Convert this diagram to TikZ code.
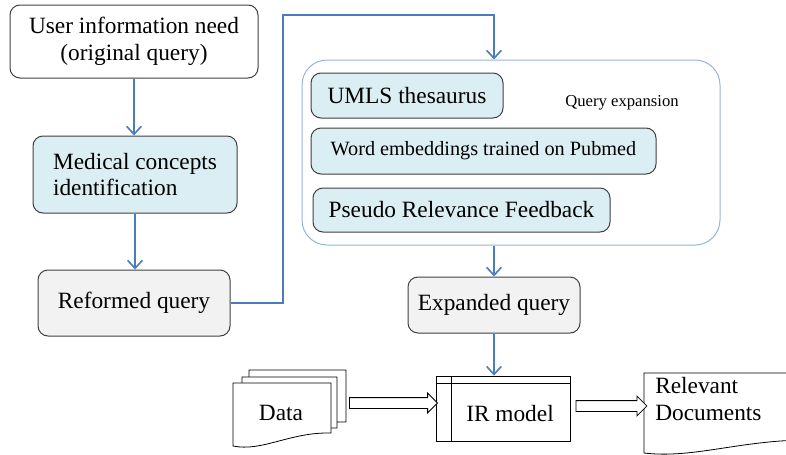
\documentclass[tikz,border=0pt]{standalone}
\usepackage{fontspec}
\setmainfont{Liberation Serif}
\newfontfamily\diagfont{Liberation Serif}
\usetikzlibrary{arrows.meta,shapes.arrows}
\newlength{\du}
\setlength{\du}{0.75pt}
\definecolor{flowblue}{RGB}{74,126,187}
\definecolor{conceptfill}{RGB}{219,238,243}
\definecolor{queryfill}{RGB}{242,242,242}
\definecolor{boxline}{RGB}{64,64,64}
\definecolor{groupline}{RGB}{149,179,215}
\tikzset{
  bigtext/.style={font=\diagfont\fontsize{17.5}{20}\selectfont},
  stagebox/.style={draw=boxline, line width=1\du, rounded corners=10\du, bigtext, align=center, inner sep=0pt},
  conceptbox/.style={stagebox, fill=conceptfill},
  querybox/.style={stagebox, fill=queryfill},
  flow/.style={draw=flowblue, line width=1.6\du, -{Straight Barb[length=6pt,width=11pt]}},
  fatarrow/.style={single arrow, draw=black, line width=0.8\du, fill=white, inner xsep=0pt, inner ysep=5\du, single arrow head extend=4.5\du, single arrow tip angle=90, single arrow head indent=0pt},
  docline/.style={draw=black, line width=0.8\du, fill=white}
}
% page with a wavy lower edge: left, top, width, height of the right side
\newcommand{\docsheet}[4]{%
  \filldraw[docline] (#1,#2) -- ({#1+#3},#2) -- ({#1+#3},{#2+#4})
    .. controls ({#1+0.58*#3},{#2+#4-1}) and ({#1+0.3*#3},{#2+#4+19}) .. (#1,{#2+#4+13}) -- cycle;}

\begin{document}
\begin{tikzpicture}[x=\du,y=-\du]
\useasboundingbox (0,0) rectangle (786,454);

\node[stagebox, fill=white, minimum width=248\du, minimum height=73\du] (need) at (134,41.5) {User information need\\(original query)};
\node[conceptbox, align=left, minimum width=204\du, minimum height=77\du] (concepts) at (135,174.5) {Medical concepts\\identification};
\node[querybox, minimum width=192\du, minimum height=66\du] (reformed) at (134,303) {Reformed query};

\node[draw=groupline, line width=1\du, rounded corners=25\du, minimum width=418\du, minimum height=185\du] (expansion) at (511,152.5) {};
\node[conceptbox, minimum width=192\du, minimum height=45\du] (umls) at (407,95.5) {UMLS thesaurus};
\node[conceptbox, font=\diagfont\fontsize{15.2}{18}\selectfont, minimum width=345\du, minimum height=46\du] (embed) at (483.5,151) {Word embeddings trained on Pubmed};
\node[conceptbox, minimum width=297\du, minimum height=44\du] (prf) at (461.5,210) {Pseudo Relevance Feedback};
\node[font=\diagfont\fontsize{12.5}{15}\selectfont] (qelabel) at (622,103) {Query expansion};

\node[querybox, minimum width=172\du, minimum height=56\du] (expanded) at (494,305) {Expanded query};

% data stack
\docsheet{249}{370}{97}{52}
\docsheet{242}{377}{95}{51}
\docsheet{233}{383}{98}{50}
\node[bigtext] (data) at (281,413) {Data};
\coordinate (stackout) at (346,403);

% IR model
\node[draw=black, line width=0.8\du, minimum width=134\du, minimum height=65\du] (ir) at (503,408.5) {};
\draw[line width=0.8\du] ([yshift=-8\du]ir.north west) -- ([yshift=-8\du]ir.north east);
\draw[line width=0.8\du] ([xshift=16\du]ir.north west) -- ([xshift=16\du]ir.south west);
\node[bigtext] (irname) at (510,414) {IR model};

% relevant documents
\docsheet{644}{373}{170}{67}
\node[anchor=west, align=left, inner sep=0pt, bigtext] (relevant) at (655,399) {Relevant\\Documents};
\coordinate (docin) at (644,406);

\path (stackout) -- (stackout -| ir.west) node[midway, fatarrow, minimum height=88\du] (feed) {};
\path ([xshift=3\du]ir.east |- docin) -- (docin) node[midway, fatarrow, minimum height=71\du] (result) {};

\coordinate (riser) at (283,15);
\draw[flow] (need.south) -- (need.south |- concepts.north);
\draw[flow] (concepts.south) -- (concepts.south |- reformed.north);
\draw[flow] (reformed.east) -| (riser) -| (expanded.north |- expansion.north);
\draw[flow] (expanded.north |- expansion.south) -- (expanded.north);
\draw[flow] (expanded.south) -- (expanded.south |- ir.north);
\end{tikzpicture}
\end{document}
